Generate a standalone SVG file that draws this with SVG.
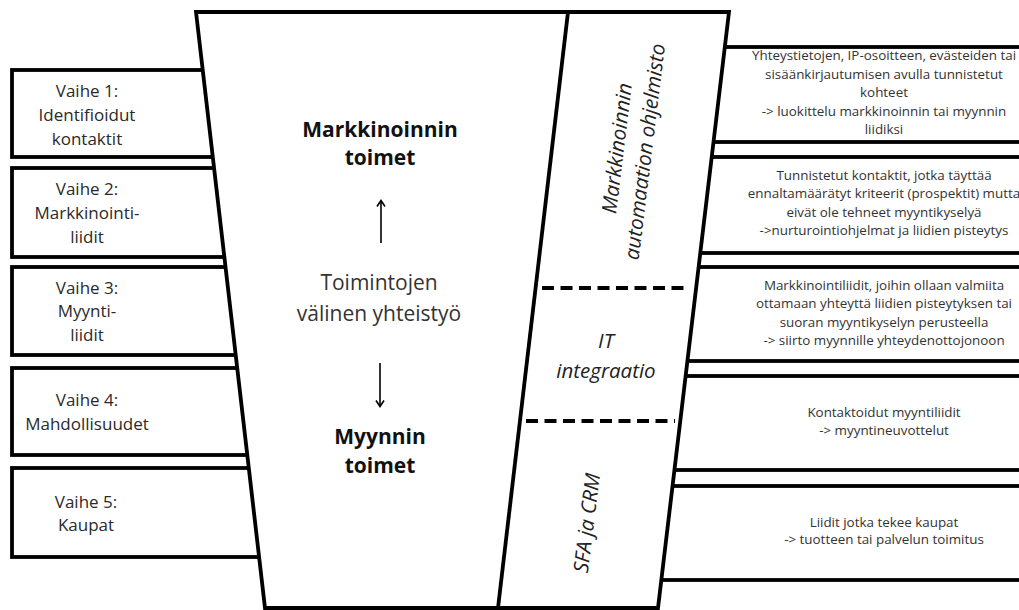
<svg xmlns="http://www.w3.org/2000/svg" width="1019" height="610" viewBox="0 0 1019 610">
<style>
.box{fill:#fff;stroke:#000;stroke-width:3.8}
.lt{font-family:"Open Sans","Liberation Sans",sans-serif;font-size:17px;fill:#2a2a2a;text-anchor:middle}
.rt{font-family:"Open Sans","Liberation Sans",sans-serif;font-size:13.4px;fill:#333;text-anchor:middle}
.mb{font-family:"Open Sans","Liberation Sans",sans-serif;font-size:21px;font-weight:bold;fill:#111;text-anchor:middle}
.mr{font-family:"Open Sans","Liberation Sans",sans-serif;font-size:21px;fill:#333;text-anchor:middle}
.it{font-family:"Open Sans","Liberation Sans",sans-serif;font-size:20.5px;font-style:italic;fill:#222;text-anchor:middle}
.ln{fill:none;stroke:#000;stroke-width:3.8}
.dash{fill:none;stroke:#000;stroke-width:4;stroke-dasharray:12 6.5}
.arr{fill:none;stroke:#000;stroke-width:1.6}
</style>
<rect width="1019" height="610" fill="#fff"/>
<g id="stage1"><rect class="box" x="12" y="70" width="300" height="87"/>
<text class="lt" x="87" y="97">Vaihe 1:</text><text class="lt" x="87" y="121">Identifioidut</text><text class="lt" x="87" y="145">kontaktit</text></g>
<g id="stage2"><rect class="box" x="12" y="168" width="300" height="89"/>
<text class="lt" x="87" y="195">Vaihe 2:</text><text class="lt" x="87" y="219">Markkinointi-</text><text class="lt" x="87" y="243">liidit</text></g>
<g id="stage3"><rect class="box" x="12" y="267" width="300" height="88"/>
<text class="lt" x="87" y="294">Vaihe 3:</text><text class="lt" x="87" y="317">Myynti-</text><text class="lt" x="87" y="341">liidit</text></g>
<g id="stage4"><rect class="box" x="12" y="368" width="300" height="87"/>
<text class="lt" x="87" y="406">Vaihe 4:</text><text class="lt" x="87" y="430">Mahdollisuudet</text></g>
<g id="stage5"><rect class="box" x="12" y="468" width="300" height="89"/>
<text class="lt" x="86" y="508">Vaihe 5:</text><text class="lt" x="86" y="531">Kaupat</text></g>
<g id="desc1"><rect class="box" x="600" y="47" width="440" height="95"/></g>
<g id="desc2"><rect class="box" x="600" y="157" width="440" height="96"/></g>
<g id="desc3"><rect class="box" x="600" y="267" width="440" height="94"/></g>
<g id="desc4"><rect class="box" x="600" y="376" width="440" height="94"/></g>
<g id="desc5"><rect class="box" x="600" y="486" width="440" height="94"/></g>
<g id="funnel">
<polygon class="ln" points="196,12 729,12 658,608 265,608" style="fill:#fff"/>
<line class="ln" x1="568" y1="12" x2="498" y2="608"/>
<line class="dash" x1="542" y1="288" x2="690" y2="288"/>
<line class="dash" x1="526" y1="421" x2="675" y2="421"/>
</g>
<g id="desc-texts">
<text class="rt" x="884" y="60">Yhteystietojen, IP-osoitteen, evästeiden tai</text>
<text class="rt" x="884" y="78.5">sisäänkirjautumisen avulla tunnistetut</text>
<text class="rt" x="884" y="97">kohteet</text>
<text class="rt" x="884" y="115.5">-&gt; luokittelu markkinoinnin tai myynnin</text>
<text class="rt" x="884" y="134">liidiksi</text>
<text class="rt" x="884" y="179.5">Tunnistetut kontaktit, jotka täyttää</text>
<text class="rt" x="884" y="198">ennaltamäärätyt kriteerit (prospektit) mutta</text>
<text class="rt" x="884" y="216.5">eivät ole tehneet myyntikyselyä</text>
<text class="rt" x="884" y="235">-&gt;nurturointiohjelmat ja liidien pisteytys</text>
<text class="rt" x="884" y="289.5">Markkinointiliidit, joihin ollaan valmiita</text>
<text class="rt" x="884" y="308">ottamaan yhteyttä liidien pisteytyksen tai</text>
<text class="rt" x="884" y="326.5">suoran myyntikyselyn perusteella</text>
<text class="rt" x="884" y="345">-&gt; siirto myynnille yhteydenottojonoon</text>
<text class="rt" x="884" y="416.5">Kontaktoidut myyntiliidit</text>
<text class="rt" x="884" y="434.5">-&gt; myyntineuvottelut</text>
<text class="rt" x="884" y="526.5">Liidit jotka tekee kaupat</text>
<text class="rt" x="884" y="543.5">-&gt; tuotteen tai palvelun toimitus</text>
</g>
<g id="center-labels">
<text class="mb" x="380" y="137">Markkinoinnin</text>
<text class="mb" x="380" y="165">toimet</text>
<text class="mr" x="379" y="290">Toimintojen</text>
<text class="mr" x="379" y="321">välinen yhteistyö</text>
<text class="mb" x="380" y="444">Myynnin</text>
<text class="mb" x="380" y="473">toimet</text>
</g>
<g id="system-labels">
<g transform="translate(631,150) rotate(-83)"><text class="it" x="0" y="-7">Markkinoinnin</text><text class="it" x="0" y="21">automaation ohjelmisto</text></g>
<text class="it" x="606" y="348">IT</text>
<text class="it" x="606" y="378">integraatio</text>
<g transform="translate(587,523) rotate(-83)"><text class="it" x="0" y="7">SFA ja CRM</text></g>
</g>
<g id="connectors">
<line class="arr" x1="381" y1="243" x2="381" y2="201"/>
<polyline class="arr" points="377,206.5 381,200.5 385,206.5"/>
<line class="arr" x1="380" y1="363" x2="380" y2="406"/>
<polyline class="arr" points="376,400.5 380,406.5 384,400.5"/>
</g>
</svg>
